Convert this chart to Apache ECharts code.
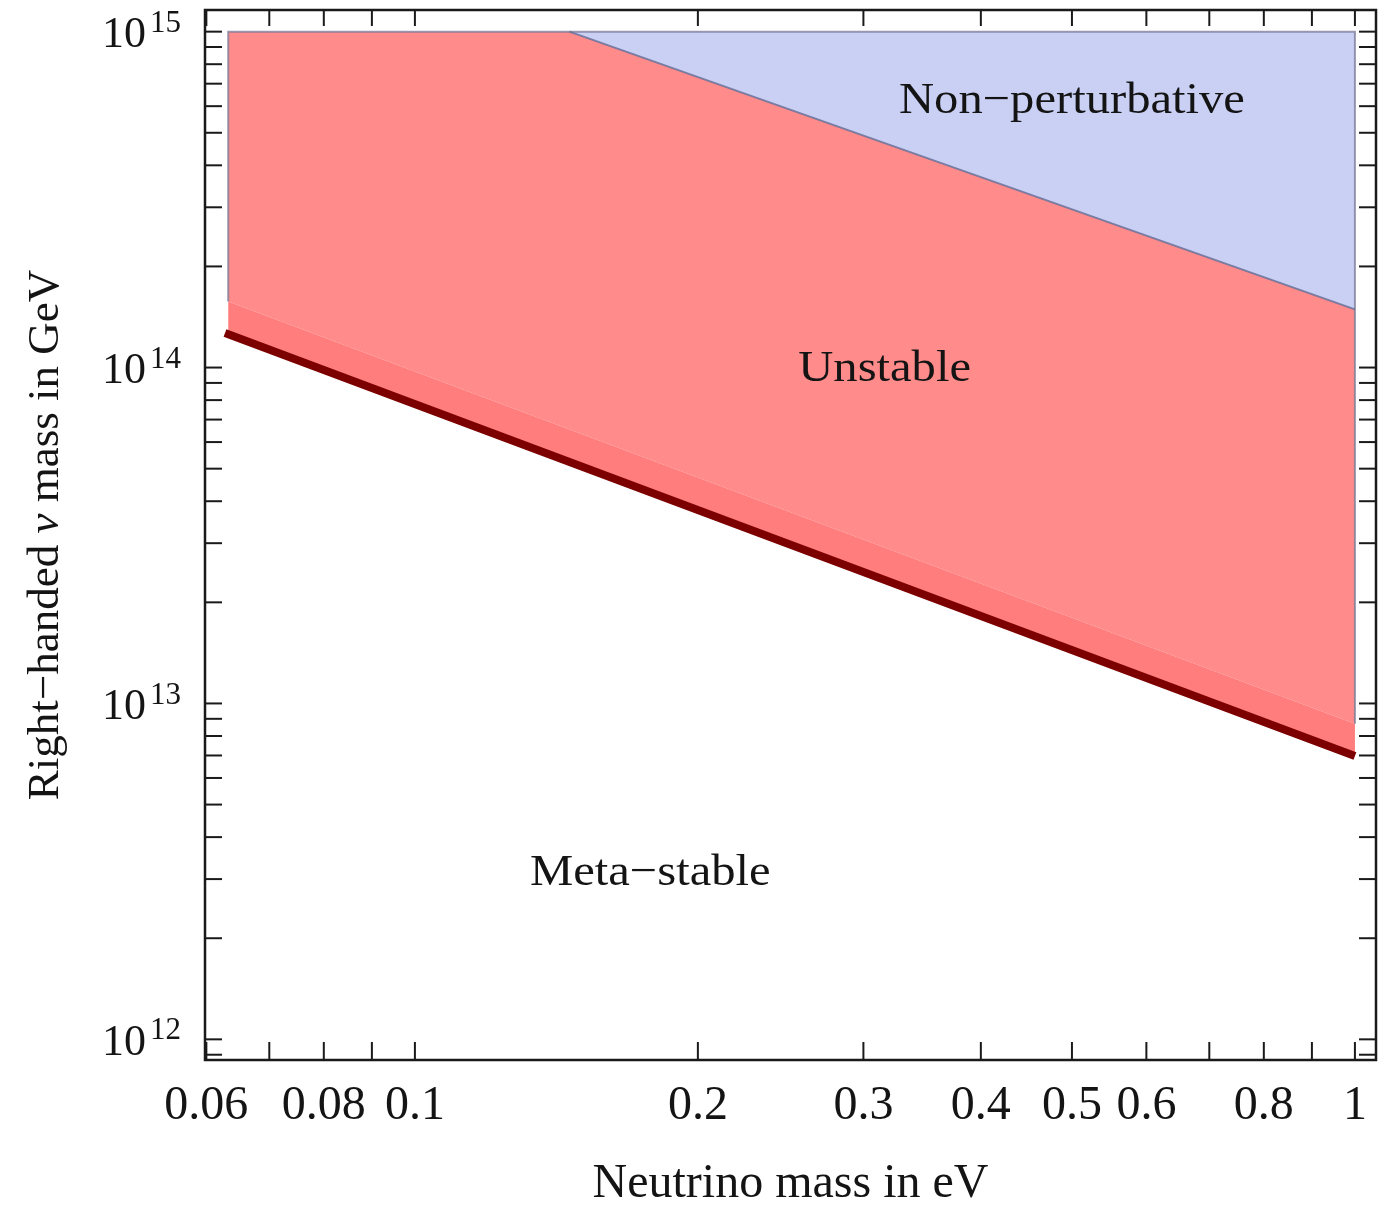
<!DOCTYPE html>
<html><head><meta charset="utf-8">
<script src="https://cdn.jsdelivr.net/npm/echarts@6/dist/echarts.min.js"></script>
<style>html,body{margin:0;padding:0;background:#fff}#chart{width:1384px;height:1213px}</style>
</head><body><div id="chart"></div>
<script>
// ---- axis ranges (data units) ----
const xAxisMin = 0.0598, xAxisMax = 1.053;
const yAxisMin = 8.68e11, yAxisMax = 1.16e15;

// ---- ticks and tick labels ----
const xTickValues = [0.06, 0.07, 0.08, 0.09, 0.1, 0.2, 0.3, 0.4, 0.5, 0.6, 0.7, 0.8, 0.9, 1];
const xTickLabels = ['0.06', '0.08', '0.1', '0.2', '0.3', '0.4', '0.5', '0.6', '0.8', '1'];
const yTickValues = [9e11,
  1e12, 2e12, 3e12, 4e12, 5e12, 6e12, 7e12, 8e12, 9e12,
  1e13, 2e13, 3e13, 4e13, 5e13, 6e13, 7e13, 8e13, 9e13,
  1e14, 2e14, 3e14, 4e14, 5e14, 6e14, 7e14, 8e14, 9e14,
  1e15];
const yLabelExponents = [12, 13, 14, 15];

// ---- regions (neutrino mass eV, right-handed mass GeV) ----
const nonPerturbativeRegion = [[0.146, 1e15], [1.0, 1e15], [1.0, 1.49e14]];
const unstableRegion = [[0.0633, 1e15], [0.146, 1e15], [1.0, 1.49e14], [1.0, 8.7e12], [0.0633, 1.573e14]];
const stabilityBand = [[0.0633, 1.573e14], [1.0, 8.7e12], [1.0, 6.98e12], [0.0633, 1.26e14]];
const regionOutline = [[0.0633, 1.573e14], [0.0633, 1e15], [1.0, 1e15], [1.0, 8.7e12]];
const perturbativeBoundary = [[0.146, 1e15], [1.0, 1.49e14]];
const metaStableBoundary = [[0.0628, 1.267e14], [1.0, 6.98e12]];

// ---- region annotations ----
const regionLabels = ['Non\u2212perturbative', 'Unstable', 'Meta\u2212stable'];
const regionLabelX = [0.5, 0.316, 0.178];
const regionLabelY = [6.3e14, 1.0e14, 3.16e12];

const SERIF = '"Liberation Serif", "Times New Roman", serif';
const INK = '#141414';

function polygonSeries(points, fill, z) {
  return {
    type: 'custom', coordinateSystem: 'cartesian2d', silent: true, z: z,
    data: points,
    renderItem: function (params, api) {
      if (params.dataIndex !== 0) return null;
      return { type: 'polygon', shape: { points: points.map(p => api.coord(p)) }, style: { fill: fill } };
    }
  };
}

const option = {
  animation: false,
  backgroundColor: '#ffffff',
  grid: { left: 205, right: 8, top: 10, bottom: 140, show: true, borderColor: '#1a1a1a', borderWidth: 2.5, backgroundColor: 'transparent' },
  xAxis: {
    type: 'log', logBase: 10, min: xAxisMin, max: xAxisMax,
    axisLine: { show: false }, axisTick: { show: false }, axisLabel: { show: false },
    splitLine: { show: false }, minorTick: { show: false },
    name: 'Neutrino mass in eV', nameLocation: 'middle', nameGap: 100,
    nameTextStyle: { fontFamily: SERIF, fontSize: 48, color: INK }
  },
  yAxis: {
    type: 'log', logBase: 10, min: yAxisMin, max: yAxisMax,
    axisLine: { show: false }, axisTick: { show: false }, axisLabel: { show: false },
    splitLine: { show: false }, minorTick: { show: false },
    name: 'Right\u2212handed {i|\u03bd} mass in GeV', nameLocation: 'middle', nameGap: 136,
    nameTextStyle: { fontFamily: SERIF, fontSize: 45, color: INK,
      rich: { i: { fontFamily: SERIF, fontSize: 45, fontStyle: 'italic', color: INK } } }
  },
  series: [
    polygonSeries(unstableRegion, '#ff8b8b', 2),
    polygonSeries(stabilityBand, '#ff7d7d', 3),
    polygonSeries(nonPerturbativeRegion, '#c9d0f4', 2),
    {
      type: 'custom', coordinateSystem: 'cartesian2d', silent: true, z: 4,
      data: regionOutline,
      renderItem: function (params, api) {
        if (params.dataIndex !== 0) return null;
        return { type: 'group', children: [
          { type: 'polyline', shape: { points: regionOutline.map(p => api.coord(p)) },
            style: { fill: null, stroke: 'rgba(120,120,150,0.75)', lineWidth: 2 } },
          { type: 'polyline', shape: { points: perturbativeBoundary.map(p => api.coord(p)) },
            style: { fill: null, stroke: 'rgba(105,110,150,0.85)', lineWidth: 2 } }
        ] };
      }
    },
    {
      type: 'line', data: metaStableBoundary, symbol: 'none', z: 5, silent: true,
      lineStyle: { color: '#7d0000', width: 8 }
    },
    // region annotations
    {
      type: 'custom', coordinateSystem: 'cartesian2d', silent: true, z: 6,
      data: regionLabelX.map((x, i) => [x, regionLabelY[i]]),
      renderItem: function (params, api) {
        const p = api.coord([api.value(0), api.value(1)]);
        return { type: 'text', x: p[0], y: p[1] + 2, scaleX: 1.08,
          style: { text: regionLabels[params.dataIndex], x: 0, y: 0, align: 'center', verticalAlign: 'middle',
            font: '45px ' + SERIF, fill: INK } };
      }
    },
    // x ticks (bottom and top, pointing inward)
    {
      type: 'custom', coordinateSystem: 'cartesian2d', silent: true, z: 7, clip: false,
      data: xTickValues.map(v => [v, yAxisMin]),
      renderItem: function (params, api) {
        const b = api.coord([api.value(0), yAxisMin]);
        const t = api.coord([api.value(0), yAxisMax]);
        const st = { stroke: '#1a1a1a', lineWidth: 2 };
        return { type: 'group', children: [
          { type: 'line', shape: { x1: b[0], y1: b[1], x2: b[0], y2: b[1] - 18 }, style: st },
          { type: 'line', shape: { x1: t[0], y1: t[1], x2: t[0], y2: t[1] + 16 }, style: st }
        ] };
      }
    },
    // y ticks (left and right, pointing inward)
    {
      type: 'custom', coordinateSystem: 'cartesian2d', silent: true, z: 7, clip: false,
      data: yTickValues.map(v => [xAxisMin, v]),
      renderItem: function (params, api) {
        const l = api.coord([xAxisMin, api.value(1)]);
        const r = api.coord([xAxisMax, api.value(1)]);
        const st = { stroke: '#1a1a1a', lineWidth: 2 };
        return { type: 'group', children: [
          { type: 'line', shape: { x1: l[0], y1: l[1], x2: l[0] + 17, y2: l[1] }, style: st },
          { type: 'line', shape: { x1: r[0], y1: r[1], x2: r[0] - 17, y2: r[1] }, style: st }
        ] };
      }
    },
    // x tick labels
    {
      type: 'custom', coordinateSystem: 'cartesian2d', silent: true, z: 7, clip: false,
      data: xTickLabels.map(s => [parseFloat(s), yAxisMin]),
      renderItem: function (params, api) {
        const p = api.coord([api.value(0), yAxisMin]);
        return { type: 'text', x: p[0], y: p[1] + 46,
          style: { text: xTickLabels[params.dataIndex], x: 0, y: 0, align: 'center', verticalAlign: 'middle',
            font: '48px ' + SERIF, fill: INK } };
      }
    },
    // y tick labels 10^n
    {
      type: 'custom', coordinateSystem: 'cartesian2d', silent: true, z: 7, clip: false,
      data: yLabelExponents.map(e => [xAxisMin, Math.pow(10, e)]),
      renderItem: function (params, api) {
        const p = api.coord([xAxisMin, api.value(1)]);
        return { type: 'group', children: [
          { type: 'text', x: p[0] - 59, y: p[1] + 4,
            style: { text: '10', x: 0, y: 0, align: 'right', verticalAlign: 'middle', font: '44px ' + SERIF, fill: INK } },
          { type: 'text', x: p[0] - 55, y: p[1] - 8,
            style: { text: String(yLabelExponents[params.dataIndex]), x: 0, y: 0, align: 'left', verticalAlign: 'middle', font: '31px ' + SERIF, fill: INK } }
        ] };
      }
    }
  ]
};

const chart = echarts.init(document.getElementById('chart'), null, { renderer: 'canvas' });
chart.setOption(option);
</script>
</body></html>
